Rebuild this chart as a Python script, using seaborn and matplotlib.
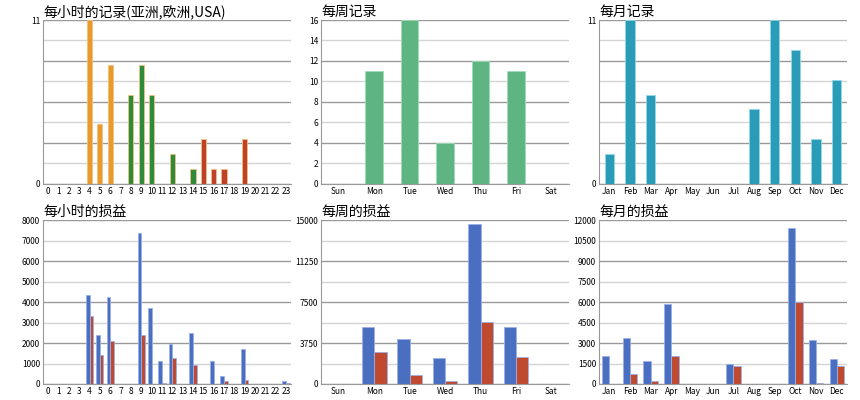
import numpy as np
import pandas as pd
import matplotlib
matplotlib.use('Agg')
import matplotlib.pyplot as plt
import seaborn as sns

plt.rcParams['font.family'] = 'sans-serif'
plt.rcParams['font.sans-serif'] = ['Noto Sans CJK SC', 'Noto Sans CJK JP', 'DejaVu Sans']

# --- dados ---
horas = [str(h) for h in range(24)]
registros_hora = [0, 0, 0, 0, 11, 4, 8, 0, 6, 8, 6, 0, 2, 0, 1, 3, 1, 1, 0, 3, 0, 0, 0, 0]
regiao_hora = ['asia'] * 8 + ['europa'] * 7 + ['usa'] * 9

dias = ['Sun', 'Mon', 'Tue', 'Wed', 'Thu', 'Fri', 'Sat']
registros_dia = [0, 11, 16, 4, 12, 11, 0]

meses = ['Jan', 'Feb', 'Mar', 'Apr', 'May', 'Jun', 'Jul', 'Aug', 'Sep', 'Oct', 'Nov', 'Dec']
registros_mes = [2, 11, 6, 0, 0, 0, 0, 5, 11, 9, 3, 7]

ganho_hora = [0, 0, 0, 0, 4350, 2400, 4250, 0, 0, 7350, 3700, 1100, 1950, 0, 2500, 0,
              1100, 400, 0, 1700, 0, 0, 0, 150]
perda_hora = [0, 0, 0, 0, 3300, 1400, 2100, 0, 0, 2400, 0, 30, 1250, 0, 950, 0,
              0, 150, 0, 200, 0, 0, 0, 30]
ganho_dia = [0, 5200, 4100, 2400, 14600, 5200, 0]
perda_dia = [0, 2900, 800, 300, 5700, 2500, 0]
ganho_mes = [2050, 3350, 1650, 5850, 0, 0, 1500, 0, 0, 11400, 3200, 1850]
perda_mes = [0, 700, 200, 2050, 0, 0, 1350, 0, 0, 6000, 50, 1350]

cores_regiao = {'asia': '#e89a2a', 'europa': '#2e8b3a', 'usa': '#c0402a'}
cores_ganho = {'ganho': '#4a6fc0', 'perda': '#c04a30'}


def estilo(ax, titulo, yticks, ylabels=None):
    ax.set_title(titulo, loc='left', fontsize=10, pad=3)
    ax.set_ylim(0, yticks[-1])
    ax.set_yticks(yticks)
    if ylabels is not None:
        ax.set_yticklabels(ylabels)
    for i, y in enumerate(np.linspace(0, yticks[-1], 9)):
        ax.axhline(y, color='#999999' if i % 2 == 0 else '#d4d4d4', lw=1, zorder=0)
    for s in ['top', 'right']:
        ax.spines[s].set_visible(False)
    ax.spines['left'].set_color('#999999')
    ax.spines['bottom'].set_color('#999999')
    ax.tick_params(labelsize=6, length=0, pad=2)
    ax.set_xlabel('')
    ax.set_ylabel('')
    if ax.get_legend() is not None:
        ax.get_legend().remove()


fig, axes = plt.subplots(2, 3, figsize=(8.6, 4), dpi=100)

# linha de cima: registros
df = pd.DataFrame({'x': horas, 'y': registros_hora, 'r': regiao_hora})
sns.barplot(data=df, x='x', y='y', hue='r', palette=cores_regiao, dodge=False,
            width=0.5, ax=axes[0, 0], edgecolor='#f0c080', linewidth=0.6, saturation=1)
estilo(axes[0, 0], '每小时的记录(亚洲,欧洲,USA)', np.linspace(0, 11, 9), ['0'] + [''] * 7 + ['11'])

df = pd.DataFrame({'x': dias, 'y': registros_dia})
sns.barplot(data=df, x='x', y='y', color='#5fb582', width=0.5, ax=axes[0, 1],
            edgecolor='#a0dcb8', linewidth=0.6, saturation=1)
estilo(axes[0, 1], '每周记录', np.arange(0, 17, 2))

df = pd.DataFrame({'x': meses, 'y': registros_mes})
sns.barplot(data=df, x='x', y='y', color='#2a9cb8', width=0.45, ax=axes[0, 2],
            edgecolor='#90d8ea', linewidth=0.6, saturation=1)
estilo(axes[0, 2], '每月记录', np.linspace(0, 11, 9), ['0'] + [''] * 7 + ['11'])

# linha de baixo: ganhos e perdas
for ax, cats, g, p, titulo, yt in [
        (axes[1, 0], horas, ganho_hora, perda_hora, '每小时的损益', np.arange(0, 8001, 1000)),
        (axes[1, 1], dias, ganho_dia, perda_dia, '每周的损益', np.linspace(0, 15000, 9)),
        (axes[1, 2], meses, ganho_mes, perda_mes, '每月的损益', np.linspace(0, 12000, 9))]:
    df = pd.DataFrame({'x': cats * 2, 'y': g + p, 't': ['ganho'] * len(cats) + ['perda'] * len(cats)})
    sns.barplot(data=df, x='x', y='y', hue='t', palette=cores_ganho, width=0.7, ax=ax,
                edgecolor='#9ab0e8', linewidth=0.6, saturation=1)
    labels = [f'{v:g}' for v in yt]
    if titulo == '每周的损益':
        labels = [lab if i % 2 == 0 else '' for i, lab in enumerate(labels)]
    estilo(ax, titulo, yt, labels)

plt.subplots_adjust(left=0.05, right=0.985, top=0.95, bottom=0.04, wspace=0.12, hspace=0.22)
plt.savefig('out.png')
